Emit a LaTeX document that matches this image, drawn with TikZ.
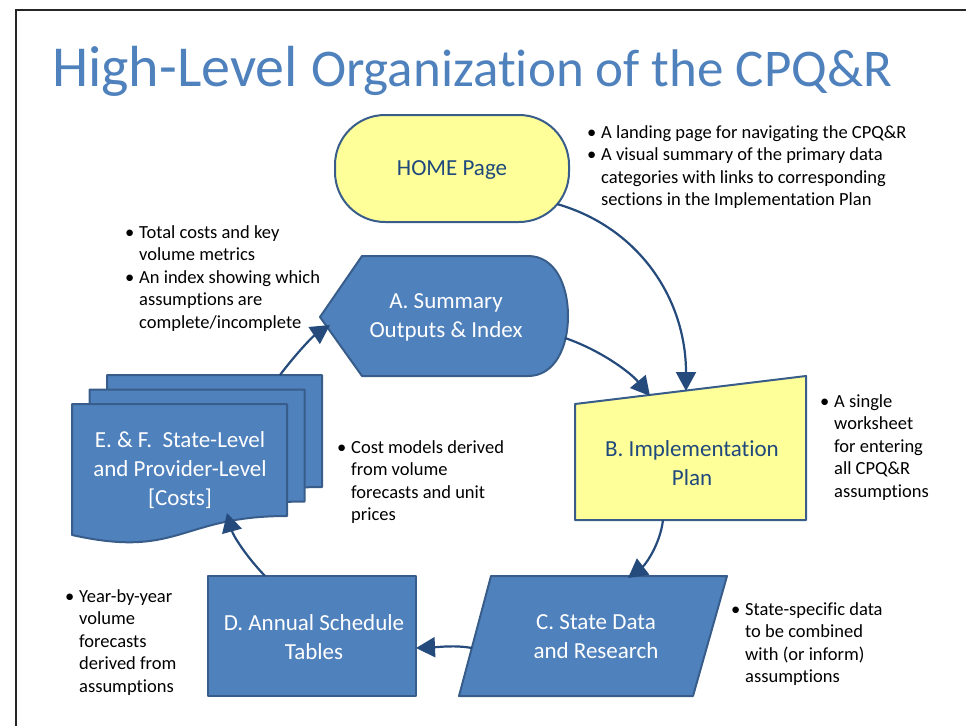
\documentclass[tikz,border=0pt]{standalone}
\usepackage{fontspec}
\setmainfont{Carlito}[Ligatures=NoCommon]
\usetikzlibrary{arrows.meta}

\definecolor{slideblue}{HTML}{4F81BD}
\definecolor{edgeblue}{HTML}{385D8A}
\definecolor{darkblue}{HTML}{1F497D}
\definecolor{arrowblue}{HTML}{254A7C}
\definecolor{paleyellow}{HTML}{FFFF99}

\newcommand{\bul}{\makebox[14pt][l]{\textbullet}}
\newcommand{\gap}{\hspace*{14pt}}

\tikzset{
  blueshape/.style={fill=slideblue, draw=edgeblue, line width=2pt, line join=round},
  yellowshape/.style={fill=paleyellow, draw=edgeblue, line width=2pt, line join=round},
  bluetext/.style={text=white, align=center, font=\fontsize{23}{29}\selectfont},
  yellowtext/.style={text=darkblue, align=center, font=\fontsize{23}{29}\selectfont},
  % multi-line notes sit on the baseline of their last line
  note/.style={anchor=base west, align=left, inner sep=0pt, font=\fontsize{18.5}{22.5}\selectfont},
  flow/.style={draw=arrowblue, line width=2.2pt, -{Triangle[length=19pt,width=20pt]}}
}

\begin{document}
\begin{tikzpicture}[x=1pt, y=-1pt]
    \useasboundingbox (0,0) rectangle (966,726);

    % slide frame
    \draw[black!85, line width=1.6pt] (16,726) -- (16,10) -- (966,10);

    % title
    \node[anchor=base west, inner sep=0pt, text=slideblue] (title) at (52,86)
        {\fontsize{58}{58}\selectfont High-Level \fontsize{53}{53}\selectfont Organization of the CPQ\&R};

    % shapes
    \draw[yellowshape, rounded corners=50pt] (335,115) rectangle (569,222);
    \draw[blueshape] (320,317) -- (362,256) -- (528,256)
        .. controls (555,256) and (568,285) .. (568,316)
        .. controls (568,347) and (555,376) .. (528,376) -- (362,376) -- cycle;
    \draw[yellowshape] (575,404) -- (806,376) -- (806,520) -- (575,520) -- cycle;
    \draw[blueshape] (491,576) -- (727,576) -- (693,696) -- (459,696) -- cycle;
    \draw[blueshape] (208,576) rectangle (416,696);
    \foreach \dx/\dy in {35/-29, 17.5/-14.5, 0/0} {
        \draw[blueshape, shift={(\dx,\dy)}] (72,404) -- (287,404) -- (287,516)
            .. controls (179.5,516) and (179.5,559) .. (72,535) -- cycle;
    }

    % shape labels
    \node[yellowtext] (home) at (452,170) {HOME Page};
    \node[bluetext] (summ) at (446,317) {A. Summary\\Outputs \& Index};
    \node[yellowtext] (impl) at (692,463) {B. Implementation\\Plan};
    \node[bluetext] (state) at (596,637) {C. State Data\\and Research};
    \node[bluetext] (annual) at (314,637) {D. Annual Schedule\\Tables};
    \node[bluetext] (costs) at (180,470) {E. \& F.\ \ State-Level\\and Provider-Level\\{[Costs]}};

    % notes
    \node[note] (homenote) at (587,205.5) {\bul A landing page for navigating the CPQ\&R\\
        \bul A visual summary of the primary data\\
        \gap categories with links to corresponding\\
        \gap sections in the Implementation Plan};
    \node[note] (summnote) at (125,328) {\bul Total costs and key\\
        \gap volume metrics\\
        \bul An index showing which\\
        \gap assumptions are\\
        \gap complete/incomplete};
    \node[note] (implnote) at (820,497) {\bul A single\\
        \gap worksheet\\
        \gap for entering\\
        \gap all CPQ\&R\\
        \gap assumptions};
    \node[note] (costsnote) at (337,520.5) {\bul Cost models derived\\
        \gap from volume\\
        \gap forecasts and unit\\
        \gap prices};
    \node[note] (annualnote) at (65,692) {\bul Year-by-year\\
        \gap volume\\
        \gap forecasts\\
        \gap derived from\\
        \gap assumptions};
    \node[note] (statenote) at (731,682.5) {\bul State-specific data\\
        \gap to be combined\\
        \gap with (or inform)\\
        \gap assumptions};

    % connector ends
    \coordinate (homeout) at (557,204);
    \coordinate (implin) at (686,391);
    \coordinate (summout) at (565,338);
    \coordinate (implin2) at (650,396);
    \coordinate (implout) at (663,520);
    \coordinate (statein) at (628,578);
    \coordinate (stateout) at (472,648);
    \coordinate (annualin) at (416,648);
    \coordinate (annualout) at (265,576);
    \coordinate (costsin) at (227,513);
    \coordinate (costsout) at (280,375);
    \coordinate (summin) at (330,325);

    % cycle of arrows
    \draw[flow] (homeout) .. controls (640,228) and (686,300) .. (implin);
    \draw[flow] (summout) .. controls (600,350) and (630,372) .. (implin2);
    \draw[flow] (implout) .. controls (660,545) and (645,565) .. (statein);
    \draw[flow] (stateout) .. controls (455,645) and (440,647) .. (annualin);
    \draw[flow] (annualout) .. controls (245,555) and (233,535) .. (costsin);
    \draw[flow] (costsout) .. controls (295,355) and (312,337) .. (summin);
\end{tikzpicture}
\end{document}
